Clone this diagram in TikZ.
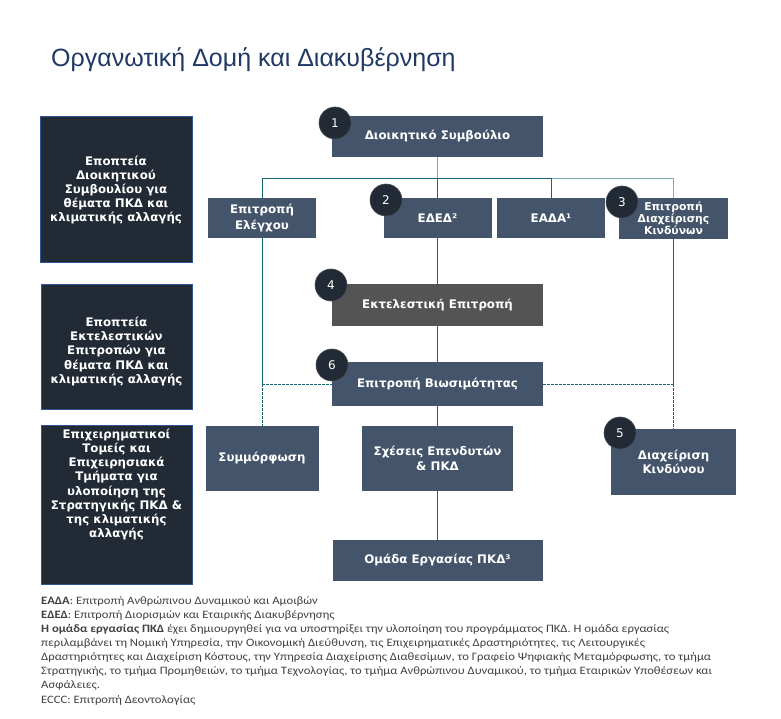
\documentclass[tikz,border=0pt]{standalone}
\usepackage{fontspec}
\setmainfont{Liberation Sans}
\newfontfamily\boxfont{DejaVu Sans}
\newfontfamily\notefont{Carlito}[FakeStretch=1.12]
\definecolor{boxblue}{RGB}{68,84,106}
\definecolor{boxgray}{RGB}{84,84,84}
\definecolor{leftfill}{RGB}{34,42,53}
\definecolor{leftedge}{RGB}{47,85,151}
\definecolor{circfill}{RGB}{34,42,53}
\definecolor{circedge}{RGB}{70,76,86}
\definecolor{tealdark}{RGB}{24,102,114}
\definecolor{teallight}{RGB}{122,174,181}
\definecolor{titleblue}{RGB}{31,56,100}
\definecolor{notegray}{RGB}{64,64,64}
\begin{document}
\begin{tikzpicture}[x=1pt,y=-1pt,
  box/.style={rectangle, fill=boxblue, text=white, align=center, inner sep=0pt,
    font=\boxfont\bfseries\fontsize{11.8}{15}\selectfont},
  leftbox/.style={rectangle, fill=leftfill, draw=leftedge, line width=0.8pt, inner sep=0pt},
  lefttext/.style={text=white, align=center, inner sep=0pt,
    font=\boxfont\bfseries\fontsize{11.8}{14.2}\selectfont},
  circ/.style={circle, fill=circfill, draw=circedge, line width=0.6pt, minimum size=32pt,
    inner sep=0pt, text=white, font=\boxfont\fontsize{12}{12}\selectfont},
  conn/.style={draw=tealdark, line width=0.9pt},
  connl/.style={draw=teallight, line width=0.9pt},
  dconn/.style={draw=tealdark, line width=0.9pt, dash pattern=on 2.5pt off 1.5pt},
  note/.style={anchor=base west, inner sep=0pt, text=notegray,
    font=\notefont\fontsize{11.3}{14}\selectfont}
]
\useasboundingbox (0,0) rectangle (781,719);

% title
\node[anchor=base west, inner sep=0pt, text=titleblue, font=\fontsize{25}{28}\selectfont]
  (title) at (51,67) {Οργανωτική Δομή και Διακυβέρνηση};

% left boxes
\node[leftbox, minimum width=152pt, minimum height=146pt] (la) at (116,189) {};
\node[lefttext] (lat) at (116,190) {Εποπτεία\\Διοικητικού\\Συμβουλίου για\\θέματα ΠΚΔ και\\κλιματικής αλλαγής};
\node[leftbox, minimum width=151pt, minimum height=125pt] (lb) at (116.5,346.5) {};
\node[lefttext] (lbt) at (116.5,351.5) {Εποπτεία\\Εκτελεστικών\\Επιτροπών για\\θέματα ΠΚΔ και\\κλιματικής αλλαγής};
\node[leftbox, minimum width=151pt, minimum height=159pt] (lc) at (116.5,504.5) {};
\node[lefttext] (lct) at (116.5,484.5) {Επιχειρηματικοί\\Τομείς και\\Επιχειρησιακά\\Τμήματα για\\υλοποίηση της\\Στρατηγικής ΠΚΔ \&\\της κλιματικής\\αλλαγής};

% main boxes
\node[box, minimum width=211pt, minimum height=41pt] (ds) at (437.5,136.5) {Διοικητικό Συμβούλιο};
\node[box, minimum width=108pt, minimum height=40pt, font=\boxfont\bfseries\fontsize{11.8}{16}\selectfont] (ee) at (262,218) {Επιτροπή\\Ελέγχου};
\node[box, minimum width=108pt, minimum height=40pt] (eded) at (437.5,218) {ΕΔΕΔ²};
\node[box, minimum width=108pt, minimum height=40pt] (eada) at (551,218) {ΕΑΔΑ¹};
\node[box, minimum width=109pt, minimum height=41pt, font=\boxfont\bfseries\fontsize{10.8}{12}\selectfont] (edk) at (673.5,218.5) {Επιτροπή\\Διαχείρισης\\Κινδύνων};
\node[box, fill=boxgray, minimum width=211pt, minimum height=42pt] (ekt) at (437.5,305) {Εκτελεστική Επιτροπή};
\node[box, minimum width=211pt, minimum height=44pt] (viw) at (437.5,384) {Επιτροπή Βιωσιμότητας};
\node[box, minimum width=113pt, minimum height=65pt] (sym) at (262,458.5) {Συμμόρφωση};
\node[box, minimum width=151pt, minimum height=65pt] (sxe) at (437.5,458.5) {Σχέσεις Επενδυτών\\\& ΠΚΔ};
\node[box, minimum width=125pt, minimum height=66pt, font=\boxfont\bfseries\fontsize{11.8}{14.3}\selectfont] (dk) at (673.5,462) {Διαχείριση\\Κινδύνου};
\node[box, minimum width=210pt, minimum height=41pt] (om) at (437.5,560.5) {Ομάδα Εργασίας ΠΚΔ³};

% connectors
\coordinate (bus) at (437.5,178);
\coordinate (busl) at (262,178);
\coordinate (busm) at (551,178);
\coordinate (busr) at (673.5,178);
\coordinate (jl) at (262,384);
\coordinate (jr) at (673.5,384);
\draw[connl] (ds.south) -- (bus);
\draw[conn] (busl) -- (busm);
\draw[connl] (busm) -- (busr);
\draw[conn] (busl) -- (ee.north);
\draw[conn] (bus) -- (eded.north);
\draw[conn] (busm) -- (eada.north);
\draw[connl] (busr) -- (edk.north);
\draw[conn] (ee.south) -- (jl);
\draw[dconn] (jl) -- (sym.north);
\draw[conn] (eded.south) -- (ekt.north);
\draw[conn] (ekt.south) -- (viw.north);
\draw[conn] (viw.south) -- (sxe.north);
\draw[conn] (sxe.south) -- (om.north);
\draw[conn] (edk.south) -- (jr);
\draw[dconn] (jr) -- (dk.north);
\draw[dconn] (jl) -- (viw.west);
\draw[dconn] (viw.east) -- (jr);

% circles
\node[circ] (c1) at (335,123) {1};
\node[circ] (c2) at (386,200) {2};
\node[circ] (c3) at (622,202) {3};
\node[circ] (c4) at (331,285) {4};
\node[circ] (c6) at (332,365) {6};
\node[circ] (c5) at (620,433) {5};

% notes
\node[note] (n1) at (41,604) {\textbf{ΕΑΔΑ}: Επιτροπή Ανθρώπινου Δυναμικού και Αμοιβών};
\node[note] (n2) at (41,618) {\textbf{ΕΔΕΔ}: Επιτροπή Διορισμών και Εταιρικής Διακυβέρνησης};
\node[note] (n3) at (41,632) {\textbf{Η ομάδα εργασίας ΠΚΔ} έχει δημιουργηθεί για να υποστηρίξει την υλοποίηση του προγράμματος ΠΚΔ. Η ομάδα εργασίας};
\node[note] (n4) at (41,646) {περιλαμβάνει τη Νομική Υπηρεσία, την Οικονομική Διεύθυνση, τις Επιχειρηματικές Δραστηριότητες, τις Λειτουργικές};
\node[note] (n5) at (41,660) {Δραστηριότητες και Διαχείριση Κόστους, την Υπηρεσία Διαχείρισης Διαθεσίμων, το Γραφείο Ψηφιακής Μεταμόρφωσης, το τμήμα};
\node[note] (n6) at (41,674) {Στρατηγικής, το τμήμα Προμηθειών, το τμήμα Τεχνολογίας, το τμήμα Ανθρώπινου Δυναμικού, το τμήμα Εταιρικών Υποθέσεων και};
\node[note] (n7) at (41,688) {Ασφάλειες.};
\node[note] (n8) at (41,703) {ECCC: Επιτροπή Δεοντολογίας};
\end{tikzpicture}
\end{document}
